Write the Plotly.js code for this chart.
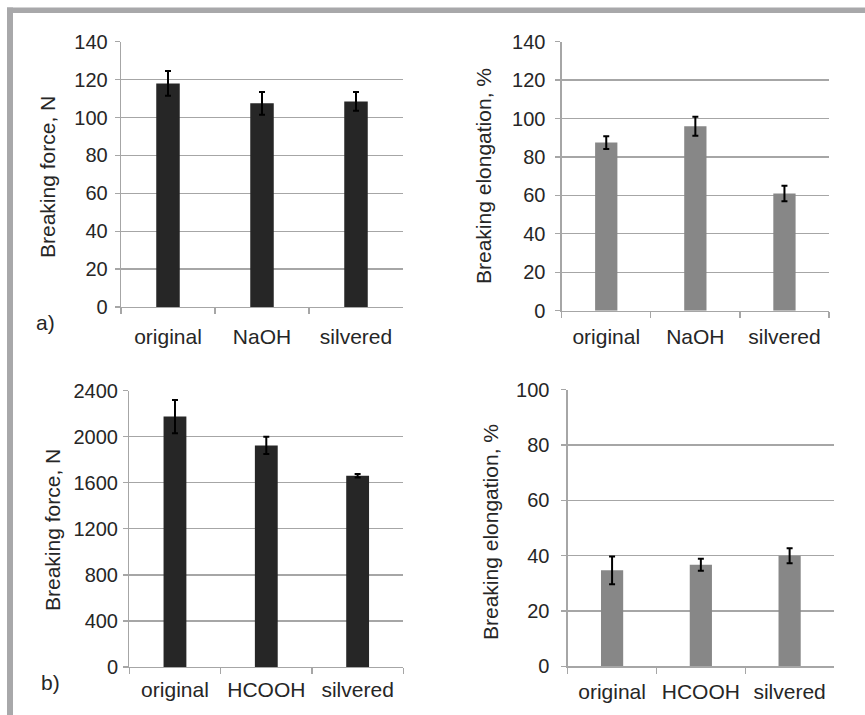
<!DOCTYPE html>
<html>
<head>
<meta charset="utf-8">
<script src="https://cdn.plot.ly/plotly-3.0.1.min.js"></script>
<style>html,body{margin:0;padding:0;background:#fff;}#chart{width:865px;height:715px;}</style>
</head>
<body>
<div id="chart"></div>
<script>
// ---- data ----
const catsA = ["original", "NaOH", "silvered"];
const forceA = [118, 107.5, 108.5];
const forceAErr = [6.5, 6, 5];
const elongA = [87.5, 96, 61];
const elongAErr = [3.3, 5, 4];

const catsB = ["original", "HCOOH", "silvered"];
const forceB = [2175, 1925, 1662];
const forceBErr = [145, 75, 15];
const elongB = [34.7, 36.7, 40];
const elongBErr = [5, 2.2, 2.7];

const yTicksA = [0, 20, 40, 60, 80, 100, 120, 140];
const yTicksForceB = [0, 400, 800, 1200, 1600, 2000, 2400];
const yTicksElongB = [0, 20, 40, 60, 80, 100];

// ---- style ----
const W = 865, H = 715;
const FONT = "Liberation Sans, Arial, sans-serif";
const TXT = "#262626";
const DARK = "#262626";
const GREY = "#878787";
const GRID = "#a6a6a6";

function bar(x, y, err, color, xa, ya) {
  return {
    type: "bar", x: x, y: y, xaxis: xa, yaxis: ya,
    width: 0.25,
    marker: {color: color, line: {width: 0}},
    error_y: {type: "data", array: err, visible: true, color: "#000", thickness: 2, width: 3},
    hoverinfo: "skip", showlegend: false
  };
}

const traces = [
  bar(catsA, forceA, forceAErr, DARK, "x", "y"),
  bar(catsA, elongA, elongAErr, GREY, "x2", "y2"),
  bar(catsB, forceB, forceBErr, DARK, "x3", "y3"),
  bar(catsB, elongB, elongBErr, GREY, "x4", "y4")
];

function px(v) { return v / W; }
function py(v) { return (H - v) / H; }

function xaxis(l, r, anchor, standoff) {
  return {
    domain: [px(l), px(r)], anchor: anchor, type: "category",
    showgrid: false, zeroline: false,
    showline: true, linecolor: GRID, linewidth: 1.3,
    ticks: "outside", tickson: "boundaries", ticklen: 6, tickcolor: GRID, tickwidth: 1.3,
    tickfont: {family: FONT, size: 21, color: TXT},
    ticklabelstandoff: standoff, fixedrange: true
  };
}
function yaxis(top, bottom, anchor, range, ticks, standoff) {
  return {
    domain: [py(bottom), py(top)], anchor: anchor, range: range,
    tickvals: ticks, ticktext: ticks.map(String),
    showgrid: true, gridcolor: GRID, gridwidth: 1.3,
    zeroline: false,
    showline: true, linecolor: GRID, linewidth: 1.3,
    ticks: "outside", ticklen: 5, tickcolor: GRID, tickwidth: 1.3,
    tickfont: {family: FONT, size: 20, color: TXT},
    ticklabelstandoff: standoff, fixedrange: true
  };
}

function ytitle(text, x, y) {
  return {text: text, xref: "paper", yref: "paper", x: px(x), y: py(y),
    xanchor: "center", yanchor: "middle", textangle: -90, showarrow: false,
    font: {family: FONT, size: 21, color: TXT}};
}
function label(text, x, y) {
  return {text: text, xref: "paper", yref: "paper", x: px(x), y: py(y),
    xanchor: "center", yanchor: "middle", showarrow: false,
    font: {family: FONT, size: 21, color: TXT}};
}

const FRAME = "#a8a8aa";
const layout = {
  width: W, height: H,
  margin: {l: 0, r: 0, t: 0, b: 0},
  paper_bgcolor: "#fff", plot_bgcolor: "#fff",
  showlegend: false,
  xaxis: xaxis(121, 403, "y", 10),
  yaxis: yaxis(41.7, 307, "x", [0, 140], yTicksA, 3),
  xaxis2: xaxis(561.7, 829, "y2", 7),
  yaxis2: yaxis(41.7, 310.7, "x2", [0, 140], yTicksA, 6),
  xaxis3: xaxis(129.3, 403.3, "y3", 3),
  yaxis3: yaxis(390.7, 667, "x3", [0, 2400], yTicksForceB, 1),
  xaxis4: xaxis(567.7, 834, "y4", 6),
  yaxis4: yaxis(389.7, 666.3, "x4", [0, 100], yTicksElongB, 8),
  annotations: [
    ytitle("Breaking force, N", 47, 177),
    ytitle("Breaking elongation, %", 483, 176),
    ytitle("Breaking force, N", 52, 530),
    ytitle("Breaking elongation, %", 490, 532),
    label("a)", 45, 322),
    label("b)", 50, 682)
  ],
  shapes: [
    {type: "rect", xref: "paper", yref: "paper", x0: px(7), x1: 1, y0: py(13), y1: py(7.5),
     fillcolor: FRAME, line: {width: 0}, layer: "above"},
    {type: "rect", xref: "paper", yref: "paper", x0: px(7), x1: px(13), y0: 0, y1: py(7.5),
     fillcolor: FRAME, line: {width: 0}, layer: "above"}
  ],
  bargap: 0.75
};

Plotly.newPlot("chart", traces, layout, {staticPlot: true, displayModeBar: false});
</script>
</body>
</html>
